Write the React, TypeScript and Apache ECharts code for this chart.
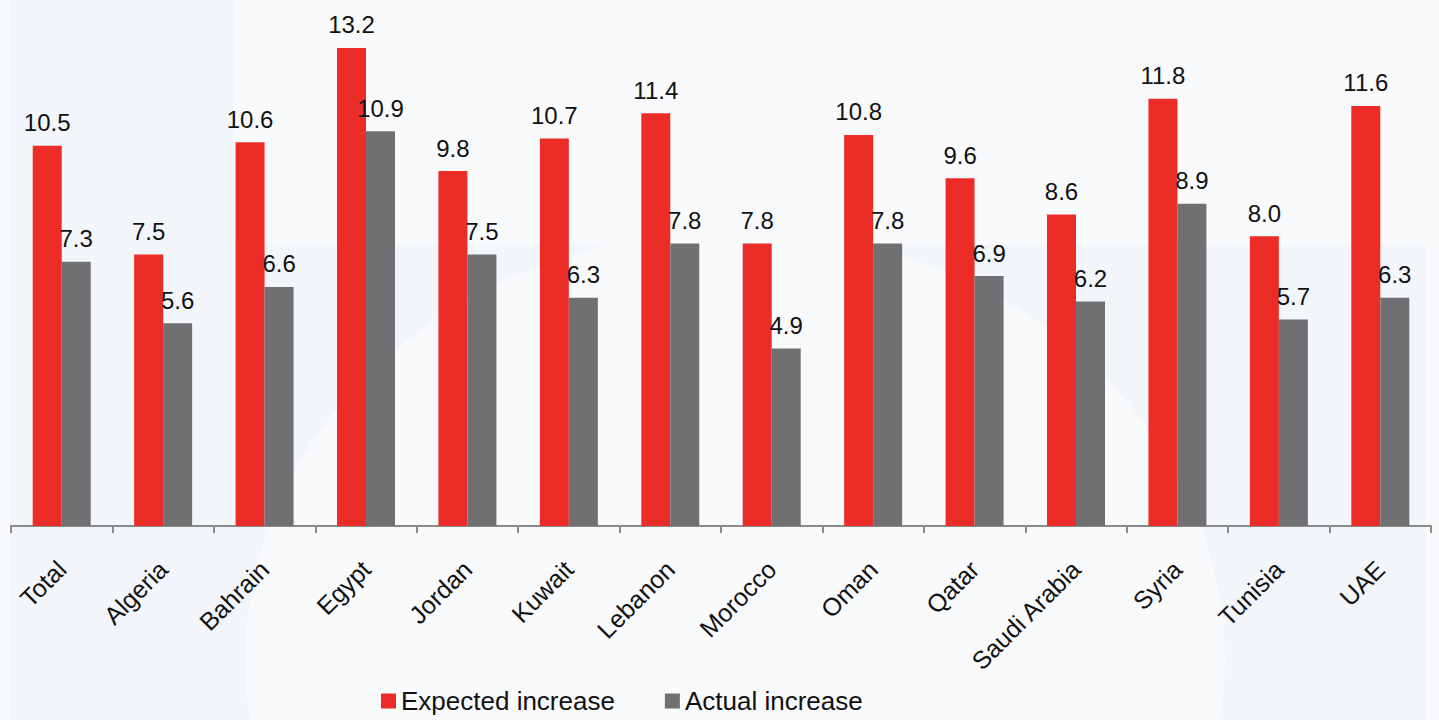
import React, { useEffect, useRef } from "react";
import * as echarts from "echarts";

const categories = ["Total", "Algeria", "Bahrain", "Egypt", "Jordan", "Kuwait", "Lebanon", "Morocco", "Oman", "Qatar", "Saudi Arabia", "Syria", "Tunisia", "UAE"];
const expectedIncrease = [10.5, 7.5, 10.6, 13.2, 9.8, 10.7, 11.4, 7.8, 10.8, 9.6, 8.6, 11.8, 8.0, 11.6];
const actualIncrease = [7.3, 5.6, 6.6, 10.9, 7.5, 6.3, 7.8, 4.9, 7.8, 6.9, 6.2, 8.9, 5.7, 6.3];
const seriesNames = ["Expected increase", "Actual increase"];

const RED = "#ec2d27";
const GRAY = "#707072";
const FONT = "Liberation Sans, Arial, sans-serif";

export default function App() {
  const ref = useRef<HTMLDivElement>(null);
  useEffect(() => {
    if (!ref.current) return;
    const chart = echarts.init(ref.current, null, { renderer: "svg" });
    const labelCfg = {
      show: true,
      position: "top",
      distance: 11,
      color: "#111",
      fontSize: 24,
      fontFamily: FONT,
      formatter: (p: any) => Number(p.value).toFixed(1),
    };
    chart.setOption({
      animation: false,
      backgroundColor: "#f9fafc",
      graphic: [
        { type: "rect", z: -10, silent: true, shape: { x: 10, y: 0, width: 223, height: 245 }, style: { fill: "#f2f5f9" } },
        { type: "rect", z: -10, silent: true, shape: { x: 10, y: 245, width: 1415, height: 475 }, style: { fill: "#f2f5f9" } },
        { type: "ellipse", z: -9, silent: true, shape: { cx: 735, cy: 660, rx: 490, ry: 430 }, style: { fill: "#f9fafc" } },
      ],
      textStyle: { fontFamily: FONT },
      grid: { left: 11, right: 8, top: 19, bottom: 194, containLabel: false },
      legend: {
        data: seriesNames,
        left: 376,
        top: 683,
        icon: "rect",
        itemWidth: 15,
        itemHeight: 15,
        itemGap: 50,
        textStyle: { fontSize: 26, color: "#111", fontFamily: FONT },
      },
      xAxis: {
        type: "category",
        data: categories,
        axisLine: { show: true, lineStyle: { color: "#8a8a8a", width: 2 } },
        axisTick: { show: true, length: 7, alignWithLabel: false, lineStyle: { color: "#8a8a8a", width: 2 } },
        axisLabel: { rotate: 45, margin: 39, fontSize: 25, color: "#111", fontFamily: FONT, interval: 0 },
      },
      yAxis: {
        type: "value",
        min: 0,
        max: 14,
        show: false,
        splitLine: { show: false },
      },
      series: [
        {
          name: seriesNames[0],
          type: "bar",
          data: expectedIncrease,
          barWidth: 29,
          barGap: "0%",
          itemStyle: { color: RED },
          label: labelCfg,
        },
        {
          name: seriesNames[1],
          type: "bar",
          data: actualIncrease,
          barWidth: 29,
          barGap: "0%",
          itemStyle: { color: GRAY },
          label: labelCfg,
        },
      ],
    });
    return () => chart.dispose();
  }, []);
  return <div ref={ref} style={{ position: "fixed", left: 0, top: 0, width: 1439, height: 720 }} />;
}
